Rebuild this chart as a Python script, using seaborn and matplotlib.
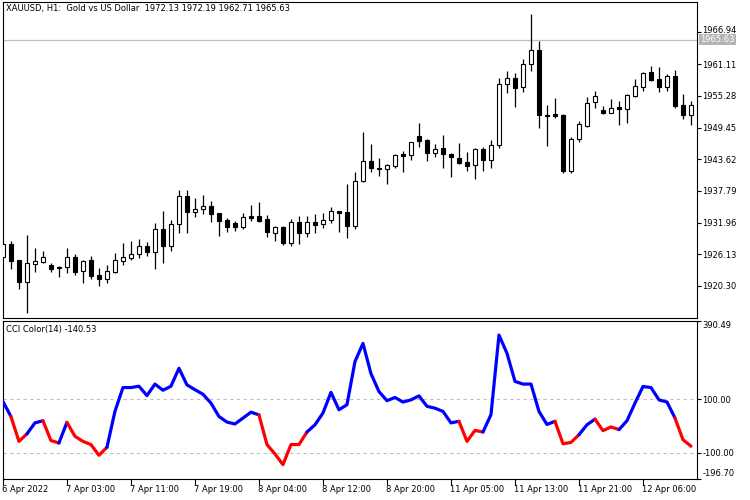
import numpy as np
import pandas as pd
import matplotlib
matplotlib.use("Agg")
import matplotlib.pyplot as plt
import matplotlib.transforms as mtransforms
import seaborn as sns

# ---------------- data ----------------
opens = [1925.57, 1927.96, 1925.08, 1920.97, 1924.29, 1924.78, 1924.10, 1923.73, 1923.73, 1925.57,
         1923.12, 1925.08, 1922.26, 1921.65, 1922.94, 1924.96, 1925.51, 1926.12, 1927.66, 1926.62,
         1930.78, 1927.72, 1931.70, 1936.85, 1933.97, 1934.40, 1934.95, 1933.67, 1932.44, 1931.83,
         1931.21, 1933.18, 1933.11, 1932.62, 1930.11, 1931.09, 1928.27, 1932.01, 1930.11, 1932.01,
         1931.64, 1932.38, 1934.10, 1933.85, 1931.40, 1939.67, 1943.29, 1942.00, 1941.76, 1942.37,
         1944.52, 1944.33, 1947.89, 1947.15, 1944.82, 1945.62, 1944.58, 1943.78, 1943.11, 1942.50,
         1945.50, 1943.41, 1946.17, 1957.39, 1958.50, 1956.84, 1961.07, 1963.65, 1951.81, 1951.94,
         1951.75, 1941.51, 1947.28, 1949.79, 1954.08, 1952.67, 1952.18, 1953.16, 1952.80, 1955.31,
         1956.96, 1959.60, 1958.31, 1956.96, 1958.93, 1953.59, 1951.75]
highs = [1928.15, 1928.58, 1925.15, 1929.68, 1927.23, 1926.74, 1924.47, 1924.04, 1927.23, 1926.19,
         1925.08, 1925.82, 1923.55, 1924.16, 1926.31, 1928.27, 1928.58, 1928.94, 1928.45, 1931.95,
         1934.10, 1932.44, 1937.96, 1937.96, 1936.43, 1937.04, 1935.93, 1933.75, 1932.75, 1932.26,
         1933.67, 1935.20, 1935.81, 1933.36, 1931.34, 1931.34, 1932.62, 1933.18, 1933.18, 1933.54,
         1933.67, 1934.77, 1934.15, 1939.06, 1941.21, 1948.69, 1946.42, 1943.78, 1942.80, 1944.52,
         1945.13, 1946.85, 1950.28, 1947.28, 1946.36, 1948.07, 1944.82, 1946.66, 1944.95, 1945.62,
         1945.81, 1947.15, 1958.62, 1959.85, 1959.54, 1962.05, 1970.27, 1965.36, 1953.59, 1954.94,
         1951.88, 1947.65, 1950.65, 1955.00, 1956.17, 1953.41, 1954.70, 1954.33, 1955.62, 1958.37,
         1959.60, 1960.77, 1960.64, 1959.29, 1960.03, 1955.62, 1954.33]
lows = [1925.39, 1923.43, 1919.69, 1915.40, 1922.94, 1924.47, 1922.94, 1922.02, 1922.75, 1922.32,
        1920.91, 1921.53, 1920.36, 1920.79, 1922.75, 1924.16, 1925.08, 1925.51, 1925.82, 1923.43,
        1924.59, 1926.80, 1930.11, 1930.11, 1933.05, 1933.48, 1932.13, 1929.56, 1930.17, 1930.48,
        1930.78, 1932.26, 1932.13, 1929.37, 1928.64, 1927.84, 1927.72, 1928.03, 1929.37, 1930.11,
        1931.03, 1931.95, 1930.29, 1929.19, 1930.78, 1939.49, 1941.33, 1940.59, 1939.06, 1942.07,
        1941.33, 1943.41, 1945.87, 1943.35, 1944.09, 1942.07, 1940.41, 1942.80, 1941.51, 1940.04,
        1941.51, 1941.94, 1945.62, 1955.86, 1953.29, 1956.05, 1959.85, 1949.30, 1946.05, 1951.14,
        1941.02, 1941.02, 1946.85, 1949.61, 1953.10, 1951.88, 1952.18, 1949.91, 1950.34, 1955.13,
        1956.23, 1958.01, 1956.05, 1956.23, 1953.10, 1951.02, 1949.91]
closes = [1927.96, 1924.96, 1920.97, 1924.47, 1924.90, 1925.57, 1923.37, 1923.55, 1925.57, 1922.94,
          1924.90, 1922.20, 1921.65, 1923.06, 1925.08, 1925.57, 1926.19, 1927.66, 1926.62, 1930.72,
          1927.72, 1931.70, 1936.85, 1933.97, 1934.46, 1934.95, 1933.48, 1932.32, 1931.21, 1931.21,
          1932.93, 1932.87, 1932.26, 1930.17, 1931.09, 1928.27, 1932.01, 1930.11, 1932.01, 1931.52,
          1932.44, 1934.10, 1933.67, 1931.40, 1939.61, 1943.29, 1941.94, 1941.82, 1942.50, 1944.33,
          1944.27, 1946.79, 1947.03, 1944.82, 1945.50, 1944.52, 1943.97, 1942.99, 1942.43, 1945.50,
          1943.41, 1946.17, 1957.39, 1958.50, 1956.78, 1961.07, 1963.65, 1951.69, 1951.63, 1951.63,
          1941.51, 1947.34, 1950.04, 1953.90, 1955.25, 1952.18, 1952.98, 1952.80, 1955.43, 1957.09,
          1959.42, 1958.19, 1956.96, 1958.93, 1953.41, 1951.75, 1953.59]
cci = [91, 35, -58, -30, 11, 19, -55, -64, 13, -39,
       -58, -70, -110, -80, 54, 143, 143, 148, 113, 156,
       133, 148, 215, 153, 135, 118, 85, 35, 14, 7,
       29, 51, 41, -70, -105, -145, -70, -70, -23, 4,
       48, 125, 60, 79, 240, 308, 195, 128, 94, 106,
       89, 97, 112, 73, 66, 54, 11, 17, -58, -17,
       -23, 42, 339, 271, 166, 156, 156, 54, 5, 17,
       -67, -62, -33, 4, 25, -18, -4, -14, 19, 85,
       147, 143, 97, 89, 29, -52, -76]

time_label_bars = [0, 8, 16, 24, 32, 40, 48, 56, 64, 72, 80]
time_labels = ["6 Apr 2022", "7 Apr 03:00", "7 Apr 11:00", "7 Apr 19:00", "8 Apr 04:00",
               "8 Apr 12:00", "8 Apr 20:00", "11 Apr 05:00", "11 Apr 13:00", "11 Apr 21:00",
               "12 Apr 06:00"]
price_ticks = [1966.94, 1961.11, 1955.28, 1949.45, 1943.62, 1937.79, 1931.96, 1926.13, 1920.30]
cci_ticks = [390.49, 100.00, -100.00, -196.70]
cci_levels = [100.0, -100.0]
header_text = "XAUUSD, H1:  Gold vs US Dollar  1972.13 1972.19 1962.71 1965.63"
cci_title = "CCI Color(14) -140.53"
bid_price = 1965.63

# ---------------- style ----------------
sns.set_style("white")
plt.rcParams['font.family'] = ['DejaVu Sans']
FS = 6

W, H = 750, 500
fig = plt.figure(figsize=(7.5, 5), dpi=100)


def rect(l, t, r, b):
    return [l / W, 1 - b / H, (r - l) / W, (b - t) / H]


ax = fig.add_axes(rect(2.7, 1.5, 697, 318))
ax2 = fig.add_axes(rect(2.7, 320.5, 697, 478.5))

df = pd.DataFrame({"bar": np.arange(len(opens)), "open": opens, "high": highs,
                   "low": lows, "close": closes, "cci": cci})

# ---------------- candles ----------------
up = df["close"] >= df["open"]
ax.vlines(df["bar"], df["low"], df["high"], color="black", lw=0.9, zorder=2)
body_bottom = np.minimum(df["open"], df["close"])
body_h = np.abs(df["close"] - df["open"])
ax.bar(df["bar"][up], body_h[up], bottom=body_bottom[up], width=0.5,
       color="white", edgecolor="black", linewidth=0.8, zorder=3)
ax.bar(df["bar"][~up], body_h[~up], bottom=body_bottom[~up], width=0.5,
       color="black", edgecolor="black", linewidth=0.8, zorder=3)

ax.axhline(bid_price, color="#c0c0c0", lw=0.9, zorder=1)

ax.set_xlim(-0.03, 86.75)
ax.set_ylim(1914.41, 1972.63)
ax.set_xticks([])
ax.yaxis.tick_right()
ax.set_yticks(price_ticks)
ax.set_yticklabels([f"{v:.2f}" for v in price_ticks])
ax.tick_params(axis="y", direction="out", length=3, width=0.8, pad=1,
               labelsize=FS, colors="black", right=True, left=False)
# top price label sits a little higher, just above the bid label box
top_lab = ax.get_yticklabels()[0]
top_lab.set_transform(top_lab.get_transform() +
                      mtransforms.ScaledTranslation(0, 3 / 100, fig.dpi_scale_trans))

trans_b = mtransforms.blended_transform_factory(ax.transAxes, ax.transData)
ax.text(1.0 + 3 / 694, bid_price, "1965.63", transform=trans_b, ha="left", va="center",
        fontsize=FS, color="white", clip_on=False, zorder=5,
        bbox=dict(boxstyle="square,pad=0.12", fc="#b4b4b4", ec="none"))

fig.text(6 / W, 1 - 8 / H, header_text, fontsize=FS, va="center", ha="left", color="black")

# ---------------- CCI ----------------
for lv in cci_levels:
    ax2.axhline(lv, color="#c0c0c0", lw=0.8, linestyle=(0, (3, 3)), zorder=1)

seg_colors = ["#0000ff" if v >= 0 else "#ff0000" for v in cci]
runs = []
start = 0
cur = seg_colors[1]
for i in range(2, len(cci)):
    c = seg_colors[i]
    if c != cur:
        runs.append((start, i - 1, cur))
        start = i - 1
        cur = c
runs.append((start, len(cci) - 1, cur))
for s, e, c in runs:
    sub = df.iloc[s:e + 1]
    sns.lineplot(data=sub, x="bar", y="cci", color=c, lw=2.3, ax=ax2, sort=False,
                 estimator=None, legend=False, zorder=3)

ax2.set_xlim(-0.03, 86.75)
ax2.set_ylim(-195.0, 393.5)
ax2.set_xlabel("")
ax2.set_ylabel("")
ax2.yaxis.tick_right()
ax2.set_yticks(cci_ticks)
ax2.set_yticklabels([f"{v:.2f}" for v in cci_ticks])
ax2.tick_params(axis="y", direction="out", length=3, width=0.8, pad=1,
                labelsize=FS, colors="black", right=True, left=False)
labs = ax2.get_yticklabels()
labs[0].set_verticalalignment("top")
labs[-1].set_verticalalignment("bottom")

ax2.set_xticks(time_label_bars)
ax2.set_xticklabels(time_labels, ha="left")
ax2.tick_params(axis="x", direction="out", length=4, width=0.8, pad=1,
                labelsize=FS, colors="black", bottom=True)
for lab in ax2.get_xticklabels():
    lab.set_transform(lab.get_transform() + mtransforms.ScaledTranslation(-1 / 100, 0, fig.dpi_scale_trans))

ax2.text(3.3 / 694, 1 - 9 / 158, cci_title, transform=ax2.transAxes,
         fontsize=FS, ha="left", va="center", color="black")

for a in (ax, ax2):
    a.grid(False)
    a.set_facecolor("white")
    for sp in a.spines.values():
        sp.set_visible(True)
        sp.set_color("black")
        sp.set_linewidth(0.8)

fig.savefig("out.png", dpi=100, facecolor="white")
